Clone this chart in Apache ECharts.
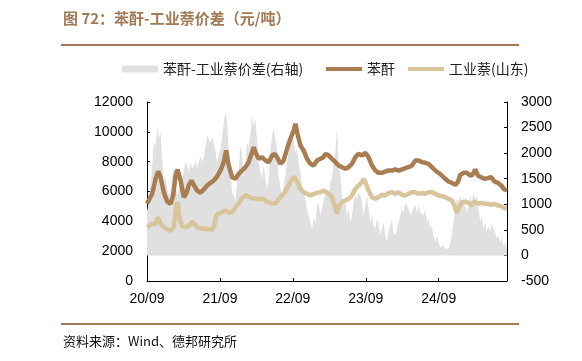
<!DOCTYPE html>
<html><head><meta charset="utf-8">
<script src="https://cdn.jsdelivr.net/npm/echarts@6/dist/echarts.min.js"></script>
<style>html,body{margin:0;padding:0;background:#fff}#c{width:582px;height:361px}</style>
</head><body><div id="c"></div>
<script>
// x values are days since 2020-09-01
const xTickLabels = ['20/09', '21/09', '22/09', '23/09', '24/09'];

// 苯酐
const paDays = [0,9,26,43,56,68,84,101,118,131,143,153,168,184,196,209,223,234,251,268,284,301,318,334,351,368,384,396,409,426,443,
  459,476,493,509,526,534,546,559,576,593,609,626,639,651,668,684,701,718,734,743,753,768,784,801,818,834,851,868,884,
  893,909,926,943,959,976,993,1009,1026,1043,1059,1076,1093,1109,1126,1143,1159,1176,1193,1209,1226,1243,1259,1276,1293,1309,1326,1343,
  1359,1376,1393,1409,1426,1443,1459,1476,1493,1509,1526,1543,1556,1568,1584,1601,1618,1629,1643,1656,1673,1689,1706,1723,1739,1756,1773,1789,1802];
const paValues = [5174,5286,5845,6850,7342,6962,5957,5330,5174,5733,7074,7476,6738,5621,5845,6403,6738,6448,6068,5912,6135,6403,6582,6738,7007,7409,7968,8750,7744,6962,6850,
  7185,7409,7632,7968,8638,8974,8527,8191,8303,8079,7968,8415,8527,8303,7856,8079,8862,9533,10091,10538,9868,9085,8750,8191,7856,7744,8079,8191,8303,
  8527,8415,8191,7968,7744,7632,7521,7632,7856,8303,8527,8415,8594,8303,7744,7409,7253,7253,7342,7409,7409,7476,7409,7476,7565,7632,7744,8079,
  8079,7968,7923,7856,7632,7409,7253,7074,6850,6671,6582,6448,6627,7119,7253,7253,7074,7119,7476,7074,6962,6850,6895,6962,6671,6582,6403,6135,6068];

// 工业萘(山东)
const napDays = [0,9,26,43,56,68,84,101,118,134,146,154,163,176,193,209,226,243,259,276,293,309,326,339,346,359,376,393,409,426,443,
  459,476,493,509,526,543,559,576,593,609,626,643,659,676,693,709,726,739,753,768,784,801,818,834,851,868,884,
  893,909,926,939,951,963,976,993,1009,1026,1043,1059,1076,1084,1093,1109,1126,1143,1159,1176,1193,1209,1226,1243,1259,1276,1293,1309,1326,1343,
  1359,1376,1393,1409,1426,1443,1459,1476,1493,1509,1526,1539,1551,1563,1576,1593,1609,1626,1639,1656,1673,1689,1706,1723,1739,1756,1773,1789,1802];
const napValues = [3610,3654,3833,3833,4280,3833,3610,3453,3386,3610,5063,5286,4168,3677,3610,3677,3990,3721,3542,3498,3498,3453,3453,3833,4392,4504,4615,4727,4571,4615,4950,
  5200,5550,5750,5650,5550,5550,5450,5550,5400,5300,5200,5200,5500,5750,6000,6400,6850,6962,6627,6180,5957,5845,5733,5845,5912,5957,6068,
  6068,5845,5621,5063,4504,5063,5286,5398,5510,5733,6180,6403,6627,6850,6627,6068,5621,5510,5621,5777,5733,5890,5957,5845,5957,5777,5733,5845,5957,5950,
  5845,5890,5845,5957,5957,5845,5733,5688,5621,5510,5398,5063,4571,4950,5286,5330,5241,5063,5330,5174,5241,5174,5174,5107,5174,5063,5018,4883,4883];

// 苯酐-工业萘价差(右轴)
const spreadDays = [0,9,18,26,34,43,51,59,68,76,84,93,101,109,118,126,134,143,151,159,168,176,184,193,201,209,218,226,234,243,251,259,268,276,284,293,301,309,318,326,334,343,351,359,368,376,384,393,401,409,418,426,434,
  443,451,459,468,476,484,493,501,509,518,526,534,543,551,559,568,576,584,593,601,609,618,626,634,643,651,659,668,676,684,693,701,709,718,726,734,743,751,759,768,776,784,793,801,809,818,826,834,843,851,859,868,876,884,
  893,901,909,918,926,934,943,951,959,968,976,984,993,1001,1009,1018,1026,1034,1043,1051,1059,1068,1076,1084,1093,1101,1109,1118,1126,1134,1143,1151,1159,1168,1176,1184,1193,1201,1209,1218,1226,1234,1243,1251,1259,1268,1276,1284,1293,1301,1309,1318,1326,1334,
  1343,1351,1359,1368,1376,1384,1393,1401,1409,1418,1426,1434,1443,1451,1459,1468,1476,1484,1493,1501,1509,1518,1526,1534,1543,1551,1559,1568,1576,1584,1593,1601,1609,1618,1626,1634,1643,1651,1659,1668,1676,1684,1693,1701,1709,1718,1726,1734,1743,1751,1759,1768,1776,1784,1793,1802];
const spreadValues = [860,1041,1432,1758,2215,2149,2508,2280,2410,1889,1432,1563,1302,1172,1237,1498,1758,1367,1172,1302,1628,1498,1530,1824,1758,1628,1824,1693,1758,1856,1693,1824,1954,1824,1921,2149,2345,2280,2215,2312,2215,2019,1824,1954,2084,2345,2606,2801,2606,2084,1628,1237,1172,
  1074,1432,1693,2149,1954,1498,1824,2215,2084,2410,2736,2541,2671,2215,1824,1628,1498,1758,1498,1302,1498,2084,2345,2475,2280,2019,1563,1302,1172,1367,1563,1824,2019,2215,2345,2215,2019,2084,1824,1628,1367,1237,1107,911,781,650,520,716,650,976,1041,781,911,1107,
  1170,1302,1172,1432,1498,1824,2019,2508,1824,1563,1172,976,1041,781,911,650,781,1041,1172,1107,1237,1172,1041,781,976,1172,911,650,781,585,520,716,585,389,520,650,389,259,455,585,716,455,389,520,650,781,911,845,1041,976,911,781,845,911,
  1000,845,976,845,878,781,911,650,716,520,585,389,259,389,259,161,129,194,129,96,129,259,389,650,911,1107,1041,1172,976,1107,976,845,976,1172,1041,1237,1107,1172,911,650,781,520,650,455,585,455,650,520,455,324,389,259,324,194,259,129];

const zip = (xs, ys) => xs.map((x, i) => [x, ys[i]]);
const C_PA = '#A97D52', C_NAP = '#D9C59B', C_SPREAD = '#E0E0E0', C_BROWN = '#A07A55';
const axisFont = { fontFamily: 'Liberation Sans, Arial, sans-serif', fontSize: 14, color: '#000' };
const legendText = { fontFamily: '"Noto Sans CJK SC", sans-serif', fontSize: 14, color: '#222' };

const chart = echarts.init(document.getElementById('c'), null, { renderer: 'canvas' });
chart.setOption({
  animation: false,
  backgroundColor: '#fff',
  grid: { left: 147, right: 75, top: 102, bottom: 80 },
  graphic: [
    { type: 'text', left: 63, top: 11, style: { text: '图 72：苯酐-工业萘价差（元/吨）', fill: C_BROWN, font: 'bold 15px "Noto Sans CJK SC", sans-serif' } },
    { type: 'rect', shape: { x: 61, y: 44, width: 458, height: 2 }, style: { fill: C_BROWN } },
    { type: 'rect', shape: { x: 61, y: 323, width: 458, height: 2 }, style: { fill: C_BROWN } },
    { type: 'text', left: 63, top: 335, style: { text: '资料来源：Wind、德邦研究所', fill: '#111', font: '13px "Noto Sans CJK SC", sans-serif' } }
  ],
  legend: [
    {
      left: 117, top: 57, itemWidth: 36, itemHeight: 7, itemGap: 12, icon: 'rect',
      textStyle: legendText,
      data: [{ name: '苯酐-工业萘价差(右轴)', itemStyle: { color: C_SPREAD } }]
    },
    {
      left: 321, top: 57, itemWidth: 36, itemHeight: 4, itemGap: 13, icon: 'rect',
      textStyle: legendText,
      data: ['苯酐', '工业萘(山东)']
    }
  ],
  xAxis: {
    type: 'value', min: 0, max: 1802, interval: 365,
    axisLine: { lineStyle: { color: '#000', width: 1 } },
    axisTick: { inside: true, length: 3, lineStyle: { color: '#000' } },
    splitLine: { show: false },
    axisLabel: Object.assign({}, axisFont, {
      margin: 11, showMaxLabel: false,
      formatter: v => { const k = Math.round(v / 365); return (Math.abs(v - k * 365) < 1 && k < xTickLabels.length) ? xTickLabels[k] : ''; }
    })
  },
  yAxis: [
    {
      type: 'value', position: 'left', min: 0, max: 12000, interval: 2000,
      axisLine: { show: true, lineStyle: { color: '#000' } },
      axisTick: { show: true, inside: true, length: 3, lineStyle: { color: '#000' } },
      splitLine: { show: false },
      axisLabel: Object.assign({}, axisFont, { margin: 14, formatter: v => String(v) })
    },
    {
      type: 'value', position: 'right', min: -500, max: 3000, interval: 500,
      axisLine: { show: true, lineStyle: { color: '#000' } },
      axisTick: { show: true, inside: true, length: 3, lineStyle: { color: '#000' } },
      splitLine: { show: false },
      axisLabel: Object.assign({}, axisFont, { margin: 14, formatter: v => String(v) })
    }
  ],
  series: [
    {
      name: '苯酐-工业萘价差(右轴)', type: 'line', yAxisIndex: 1, symbol: 'none',
      data: zip(spreadDays, spreadValues),
      lineStyle: { width: 0, color: C_SPREAD }, itemStyle: { color: C_SPREAD },
      areaStyle: { color: C_SPREAD, opacity: 1, origin: 0 }
    },
    {
      name: '苯酐', type: 'line', symbol: 'none', data: zip(paDays, paValues),
      lineStyle: { width: 4.5, color: C_PA }, itemStyle: { color: C_PA }
    },
    {
      name: '工业萘(山东)', type: 'line', symbol: 'none', data: zip(napDays, napValues),
      lineStyle: { width: 4.5, color: C_NAP }, itemStyle: { color: C_NAP }
    }
  ]
});
</script></body></html>
